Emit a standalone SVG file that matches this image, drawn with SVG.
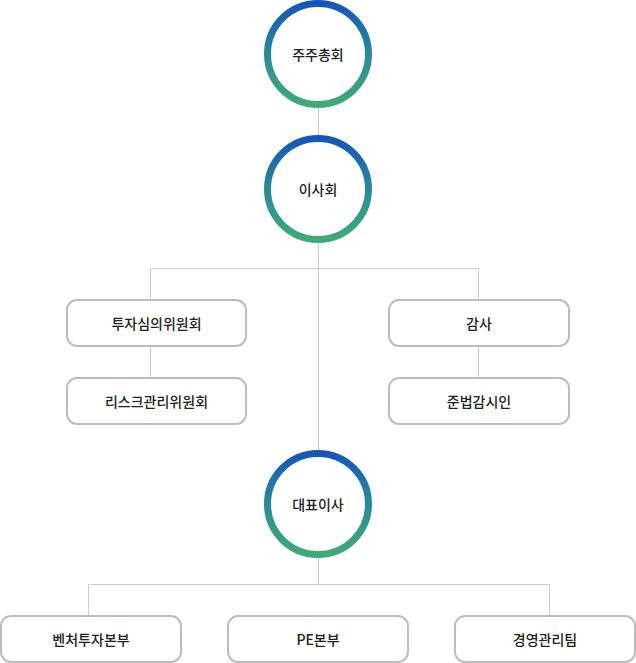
<svg xmlns="http://www.w3.org/2000/svg" width="636" height="663" viewBox="0 0 636 663">
<defs>
<linearGradient id="ring" x1="0" y1="0" x2="0" y2="1">
<stop offset="0" stop-color="#1456b8"/>
<stop offset="0.5" stop-color="#2a8a9a"/>
<stop offset="1" stop-color="#3dab78"/>
</linearGradient>
<style>
.ring{fill:#fff;stroke:url(#ring);stroke-width:7}
.box{fill:#fff;stroke:#bdbdbd;stroke-width:2}
.ln{fill:none;stroke:#cccccc;stroke-width:1}
text{font-family:"Noto Sans CJK KR","Noto Sans",sans-serif;font-size:14px;font-weight:500;fill:#222;text-anchor:middle;dominant-baseline:central}
</style>
</defs>
<rect width="636" height="663" fill="#fff"/>
<g id="connectors">
<path class="ln" d="M318.5 108V135M318.5 243V450M318.5 558V584.5"/>
<path class="ln" d="M150.5 300V268.5H478.5V300M150.5 346V378M478.5 346V378"/>
<path class="ln" d="M88.5 616V584.5H549.5V616"/>
</g>
<g id="n1"><circle class="ring" cx="318" cy="54" r="50.5"/><text x="318" y="54">주주총회</text></g>
<g id="n2"><circle class="ring" cx="318" cy="189" r="50.5"/><text x="318" y="189">이사회</text></g>
<g id="n3"><rect class="box" x="67" y="300" width="179" height="46" rx="10"/><text x="156.5" y="323">투자심의위원회</text></g>
<g id="n4"><rect class="box" x="67" y="378" width="179" height="46" rx="10"/><text x="156.5" y="401">리스크관리위원회</text></g>
<g id="n5"><rect class="box" x="389" y="300" width="180" height="46" rx="10"/><text x="479" y="323">감사</text></g>
<g id="n6"><rect class="box" x="389" y="378" width="180" height="46" rx="10"/><text x="479" y="401">준법감시인</text></g>
<g id="n7"><circle class="ring" cx="318" cy="504" r="50.5"/><text x="318" y="504">대표이사</text></g>
<g id="n8"><rect class="box" x="1" y="616" width="180" height="46" rx="10"/><text x="91" y="639">벤처투자본부</text></g>
<g id="n9"><rect class="box" x="228" y="616" width="180" height="46" rx="10"/><text x="318" y="639">PE본부</text></g>
<g id="n10"><rect class="box" x="455" y="616" width="180" height="46" rx="10"/><text x="545" y="639">경영관리팀</text></g>
</svg>
